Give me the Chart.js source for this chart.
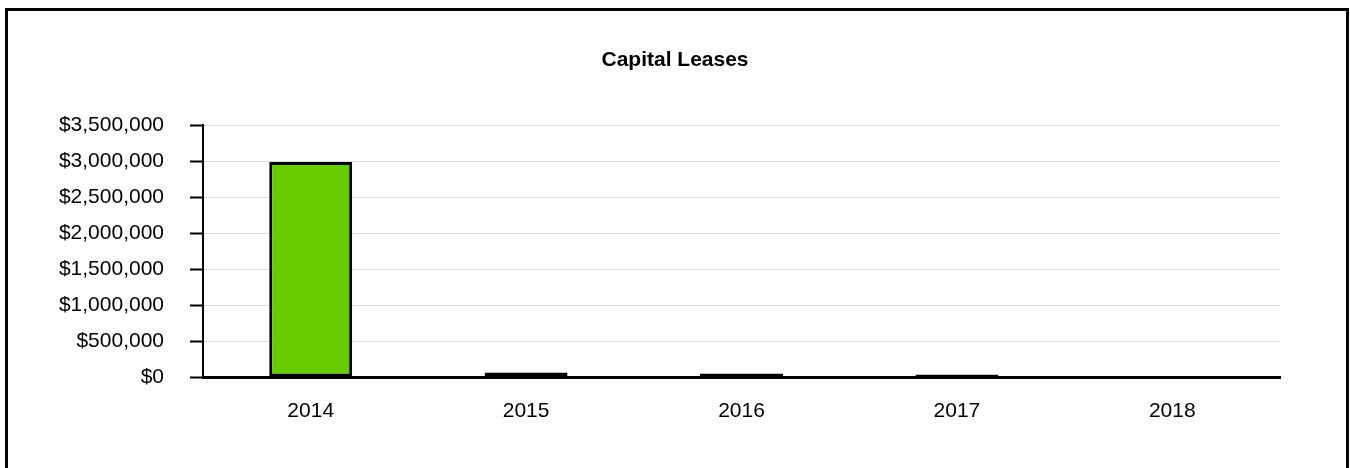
<!DOCTYPE html>
<html>
<head>
<meta charset="utf-8">
<script src="https://cdn.jsdelivr.net/npm/chart.js@4/dist/chart.umd.min.js"></script>
<style>
  html, body { margin: 0; padding: 0; background: #fff; overflow: hidden; }
  #wrap { position: absolute; left: 0; top: 0; width: 1350px; height: 468px; }
  #c { position: absolute; left: 0; top: 0; }
  #frame { position: absolute; left: 5px; top: 8px; width: 1338px; height: 470px;
           border: 3px solid #000; border-bottom: none; pointer-events: none; }
</style>
</head>
<body>
<div id="wrap">
  <canvas id="c" width="1350" height="468"></canvas>
  <div id="frame"></div>
</div>
<script>
const title = "Capital Leases";
const categories = ["2014", "2015", "2016", "2017", "2018"];
const values = [2990000, 62000, 48000, 35000, 15000];
const yMin = 0, yMax = 3500000, yStep = 500000;

const FONT = "'Liberation Sans', Arial, sans-serif";

new Chart(document.getElementById('c'), {
  type: 'bar',
  data: {
    labels: categories,
    datasets: [{
      label: title,
      data: values,
      yAxisID: 'y',
      backgroundColor: '#66cc00',
      borderColor: '#000',
      borderWidth: 3,
      borderSkipped: false,
      categoryPercentage: 1,
      barPercentage: 0.385
    }]
  },
  options: {
    responsive: false,
    animation: false,
    layout: { padding: 0 },
    plugins: {
      legend: { display: false },
      tooltip: { enabled: false },
      title: {
        display: true,
        text: title,
        color: '#000',
        font: { family: FONT, size: 21, weight: 'bold', lineHeight: 1.2 },
        padding: { top: 48, bottom: 52 }
      }
    },
    scales: {
      x: {
        grid: { display: false, drawTicks: false },
        border: { display: true, color: '#000', width: 3 },
        ticks: { color: '#000', font: { family: FONT, size: 21 }, padding: 22, maxRotation: 0 },
        afterFit(scale) { scale.height = 91; }
      },
      y: {
        min: yMin, max: yMax,
        grid: { color: '#dddddd', lineWidth: 1, tickColor: '#000', tickLength: 13, tickWidth: 2 },
        border: { display: true, color: '#000', width: 2 },
        ticks: {
          stepSize: yStep,
          color: '#000',
          padding: 26,
          font: { family: FONT, size: 21 },
          callback: (v) => '$' + Number(v).toLocaleString('en-US')
        },
        afterFit(scale) { scale.width = 203; }
      },
      yRight: {
        position: 'right',
        min: yMin, max: yMax,
        grid: { display: false, drawTicks: false },
        border: { display: false },
        ticks: { display: false },
        afterFit(scale) { scale.width = 70; }
      }
    }
  }
});
</script>
</body>
</html>
